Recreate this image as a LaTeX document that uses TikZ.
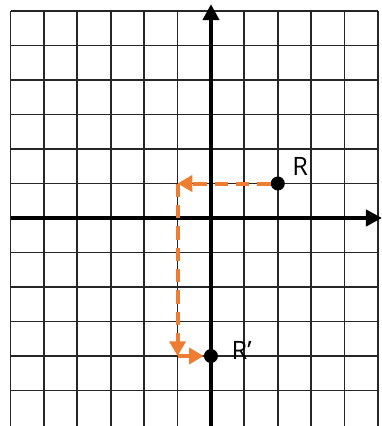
\documentclass[tikz,border=0pt]{standalone}
\usepackage{fontspec}
\setmainfont{Open Sans}
\usetikzlibrary{arrows.meta}
\definecolor{orng}{HTML}{ED7D31}
\begin{document}
\begin{tikzpicture}[x=25.05pt,y=25.875pt,
  gridline/.style={line width=1.35pt,color=black!85},
  axisline/.style={line width=3pt,-{Triangle[length=12pt,width=12pt]}},
  movearrow/.style={orng,line width=3pt,dash pattern=on 10pt off 6pt,-{Triangle[length=11pt,width=12pt]}},
  dot/.style={circle,fill=black,inner sep=0pt,minimum size=10.5pt},
  lbl/.style={font=\fontsize{19}{21}\selectfont,inner sep=0pt}]
\useasboundingbox (-6.317,-6.029) rectangle (5.120,6.319);
\foreach \i in {-6,...,5} \draw[gridline] (\i,6) -- (\i,-6.03);
\foreach \j in {-5,...,6} \draw[gridline] (-6,\j) -- (5,\j);
\coordinate (xs) at (-6,0);
\coordinate (xe) at (5.12,0);
\coordinate (ys) at (0,-6.03);
\coordinate (ye) at (0,6.2);
\draw[axisline] (xs) -- (xe);
\draw[axisline] (ys) -- (ye);
\node[dot] (R) at (2,1) {};
\node[dot] (Rp) at (0,-4) {};
\coordinate (a) at (-1,1);
\coordinate (b) at (-1,-4);
\draw[movearrow] (R) -- (a);
\draw[movearrow] (a) -- (b);
\draw[movearrow,dash pattern=] (b) -- (Rp);
\node[lbl] (Rl) at (2.67,1.5) {R};
\node[lbl] (Rpl) at (0.92,-3.83) {R’};
\end{tikzpicture}
\end{document}
